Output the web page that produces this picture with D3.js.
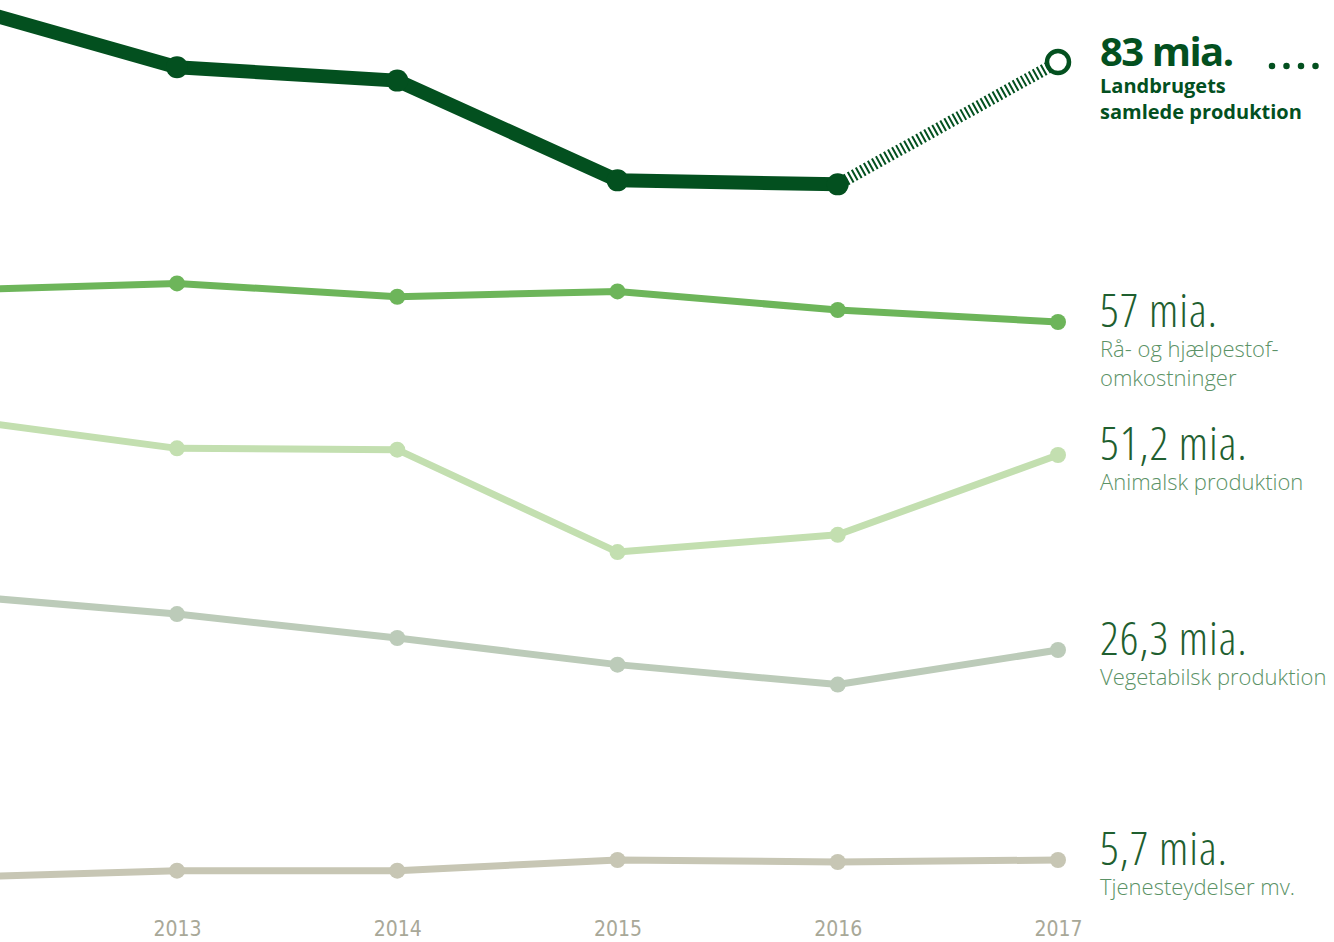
<!doctype html>
<html lang="da">
<head>
<meta charset="utf-8" />
<title>Landbrugets produktion</title>
<script src="https://cdn.jsdelivr.net/npm/d3@7"></script>
<style>
	body { margin: 0; background: #fff; }
	svg { display: block; }
	.val { font-family: "Open Sans", sans-serif; font-weight: 300; font-stretch: 75%; letter-spacing: 1px; }
	.sub { font-family: "Open Sans", sans-serif; font-weight: 300; font-stretch: 100%; }
	.head { font-weight: 700; font-stretch: 100%; }
	.val.head { letter-spacing: -1.5px; }
	.tick { font-family: "Liberation Sans Narrow", "DejaVu Sans Condensed", sans-serif; }
</style>
</head>
<body>
<div id="chart"></div>
<script>
	const years = [2012, 2013, 2014, 2015, 2016, 2017];
	const tickYears = [2013, 2014, 2015, 2016, 2017];

	// mia. kr.
	const total = [87.3, 82.6, 81.6, 74.1, 73.8, 83];
	const raavarer = [59.4, 59.9, 58.9, 59.3, 57.9, 57];
	const animalsk = [53.9, 51.7, 51.6, 43.9, 45.2, 51.2];
	const vegetabilsk = [30.4, 29.0, 27.2, 25.2, 23.7, 26.3];
	const tjenester = [4.4, 4.9, 4.9, 5.7, 5.55, 5.7];

	const valueLabels = ["83 mia.", "57 mia.", "51,2 mia.", "26,3 mia.", "5,7 mia."];
	const nameLabels = [
		["Landbrugets", "samlede produktion"],
		["Rå- og hjælpestof-", "omkostninger"],
		["Animalsk produktion"],
		["Vegetabilsk produktion"],
		["Tjenesteydelser mv."]
	];

	const W = 1334, H = 942;
	const PX_PER_MIA = 13.3;
	const series = [
		{ values: total, color: "#03501f", width: 14, r: 11, lane: 62, bold: true },
		{ values: raavarer, color: "#6db55a", width: 7, r: 8, lane: 322 },
		{ values: animalsk, color: "#c3dfb0", width: 7, r: 8, lane: 455 },
		{ values: vegetabilsk, color: "#bccbb9", width: 7, r: 8, lane: 650 },
		{ values: tjenester, color: "#c7c6b4", width: 7, r: 8, lane: 860 }
	];

	const x = d3.scaleLinear().domain([2013, 2017]).range([177, 1058]);

	const svg = d3.select("#chart").append("svg").attr("width", W).attr("height", H);

	series.forEach((s, si) => {
		const last = s.values[s.values.length - 1];
		// each line sits in its own lane, but all share the same mia-per-pixel unit
		const y = d3.scaleLinear().domain([last, last + 1]).range([s.lane, s.lane - PX_PER_MIA]);
		const pts = years.map((yr, i) => [x(yr), y(s.values[i])]);
		const line = d3.line();
		const g = svg.append("g");
		if (s.bold) {
			g.append("path").attr("d", line(pts.slice(0, 5))).attr("fill", "none")
				.attr("stroke", s.color).attr("stroke-width", s.width).attr("stroke-linejoin", "round");
			g.append("path").attr("d", line(pts.slice(4))).attr("fill", "none")
				.attr("stroke", s.color).attr("stroke-width", 12).attr("stroke-dasharray", "2,2.6");
			g.selectAll("circle.p").data(pts.slice(1, 5)).join("circle")
				.attr("cx", d => d[0]).attr("cy", d => d[1]).attr("r", s.r).attr("fill", s.color);
			g.append("circle").attr("cx", pts[5][0]).attr("cy", pts[5][1]).attr("r", 11)
				.attr("fill", "#fff").attr("stroke", s.color).attr("stroke-width", 4.5);
		} else {
			g.append("path").attr("d", line(pts)).attr("fill", "none")
				.attr("stroke", s.color).attr("stroke-width", s.width).attr("stroke-linejoin", "round");
			g.selectAll("circle").data(pts.slice(1)).join("circle")
				.attr("cx", d => d[0]).attr("cy", d => d[1]).attr("r", s.r).attr("fill", s.color);
		}

		const lx = 1100;
		svg.append("text").attr("class", s.bold ? "val head" : "val").attr("x", lx).attr("y", s.lane + (s.bold ? 4 : 5))
			.attr("fill", s.bold ? "#03501f" : "#1f5f30").attr("font-size", s.bold ? 40 : 46)
			.text(valueLabels[si]);
		nameLabels[si].forEach((t, j) => {
			svg.append("text").attr("class", s.bold ? "sub head" : "sub").attr("x", lx)
				.attr("y", s.lane + (s.bold ? 31 : 35) + j * (s.bold ? 26 : 29))
				.attr("fill", s.bold ? "#03501f" : "#5b9266").attr("font-size", s.bold ? 20 : 22)
				.text(t);
		});
	});

	// dotted leader after the headline figure
	svg.append("line").attr("x1", 1272).attr("x2", 1330).attr("y1", 66).attr("y2", 66)
		.attr("stroke", "#03501f").attr("stroke-width", 6.5).attr("stroke-linecap", "round")
		.attr("stroke-dasharray", "0,14.5");

	const axis = d3.axisBottom(x).tickValues(tickYears).tickFormat(d3.format("d")).tickSize(0);
	const ax = svg.append("g").attr("transform", "translate(0,918)").call(axis);
	ax.select(".domain").remove();
	ax.selectAll("text").attr("class", "tick").attr("fill", "#a8a898").attr("font-size", 21)
		.attr("font-family", null);
</script>
</body>
</html>
